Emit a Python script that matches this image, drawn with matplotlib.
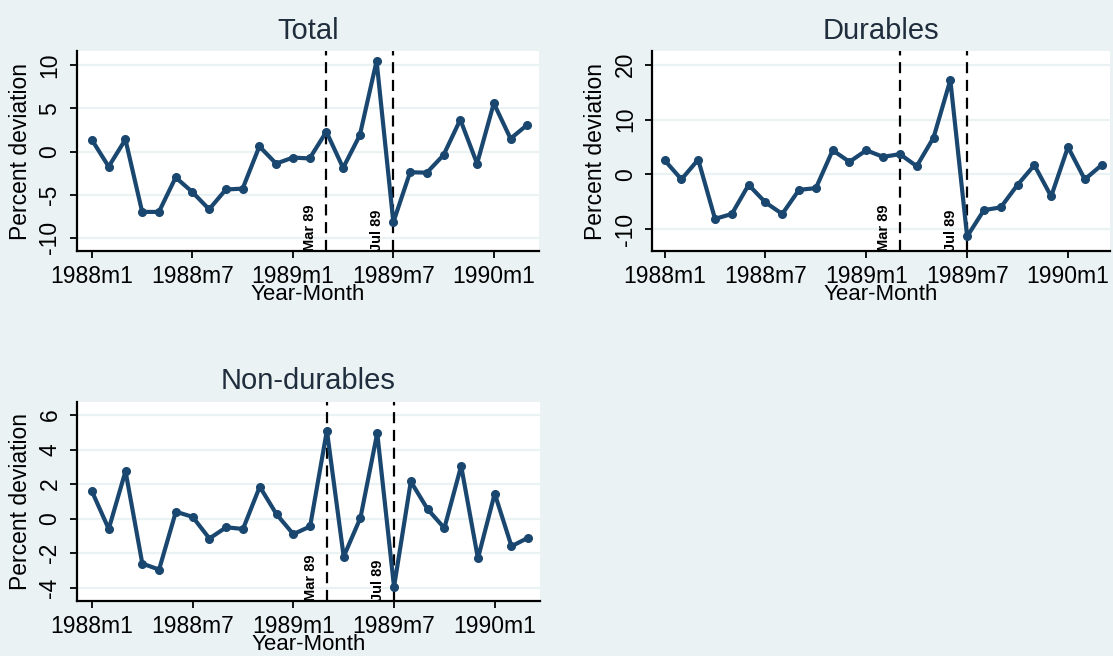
import matplotlib
matplotlib.use('Agg')
import matplotlib.pyplot as plt
import numpy as np

plt.rcParams['font.family'] = ['Liberation Sans', 'DejaVu Sans']

# months since 1988m1 (1988m1 .. 1990m3)
months = np.arange(27)
tick_pos = [0, 6, 12, 18, 24]
tick_labels = ['1988m1', '1988m7', '1989m1', '1989m7', '1990m1']

event_pos = [14, 18]
event_labels = ['Mar 89', 'Jul 89']

total = [1.35, -1.75, 1.4, -7.0, -7.0, -3.0, -4.7, -6.7, -4.4, -4.3, 0.6, -1.4,
         -0.7, -0.8, 2.3, -1.9, 1.9, 10.5, -8.2, -2.4, -2.45, -0.4, 3.7, -1.4,
         5.6, 1.5, 3.1]
durables = [2.6, -0.9, 2.7, -8.1, -7.2, -1.9, -5.1, -7.2, -2.8, -2.5, 4.4, 2.3,
            4.4, 3.2, 3.7, 1.5, 6.7, 17.2, -11.3, -6.5, -6.0, -1.9, 1.7, -4.0,
            5.0, -0.9, 1.7]
nondurables = [1.58, -0.6, 2.75, -2.6, -2.95, 0.4, 0.1, -1.15, -0.5, -0.6, 1.85, 0.25,
               -0.9, -0.45, 5.1, -2.2, 0.05, 4.95, -3.95, 2.15, 0.55, -0.55, 3.05, -2.3,
               1.45, -1.6, -1.1]

bg = '#eaf2f3'
navy = '#1a476f'


def panel(ax, y, title, yticks, ylim, xlim, ylab_x):
    ax.set_facecolor('white')
    for yt in yticks:
        ax.axhline(yt, color=bg, lw=1.6, zorder=0)
    ax.plot(months, y, color=navy, lw=3, marker='o', markersize=5.5, zorder=3)
    for pos, lab in zip(event_pos, event_labels):
        ax.axvline(pos, color='black', lw=1.6, dashes=(5, 3), zorder=2)
        ax.text(pos - 0.55, ylim[0], lab, rotation=90, ha='right', va='bottom',
                fontsize=10.5, fontweight='bold',
                family=['Liberation Sans Narrow', 'Liberation Sans'])
    ax.set_xlim(*xlim)
    ax.set_ylim(*ylim)
    ax.set_xticks(tick_pos)
    ax.set_xticklabels(tick_labels)
    ax.set_yticks(yticks)
    ax.set_yticklabels([str(t) for t in yticks], rotation=90, va='center')
    ax.tick_params(axis='both', labelsize=16.5, length=5, width=1.3, pad=6)
    ax.tick_params(axis='x', pad=5)
    for s in ['top', 'right']:
        ax.spines[s].set_visible(False)
    for s in ['left', 'bottom']:
        ax.spines[s].set_linewidth(1.6)
    ax.set_title(title, fontsize=21, color='#1f2d3d', pad=9)
    ax.set_xlabel('Year-Month', fontsize=16)
    ax.xaxis.label.set_va('center')
    ax.xaxis.set_label_coords(0.5, -0.222)
    ax.set_ylabel('Percent deviation', fontsize=16.5)
    ax.yaxis.label.set_va('center')
    ax.yaxis.set_label_coords(ylab_x, 0.5)


fig = plt.figure(figsize=(11.13, 6.56), dpi=100)
fig.patch.set_facecolor(bg)

ax1 = fig.add_axes([0.0689, 0.6178, 0.4154, 0.3037])
ax2 = fig.add_axes([0.5861, 0.6178, 0.4112, 0.3037])
ax3 = fig.add_axes([0.0689, 0.0843, 0.4163, 0.3034])

panel(ax1, total, 'Total', [-10, -5, 0, 5, 10], (-11.5, 11.6), (-0.91, 26.7), -0.122)
panel(ax2, durables, 'Durables', [-10, 0, 10, 20], (-13.9, 22.4), (-0.73, 26.5), -0.125)
panel(ax3, nondurables, 'Non-durables', [-4, -2, 0, 2, 4, 6], (-4.75, 6.77), (-0.91, 26.7), -0.122)

fig.savefig('out.png', dpi=100, facecolor=bg)
